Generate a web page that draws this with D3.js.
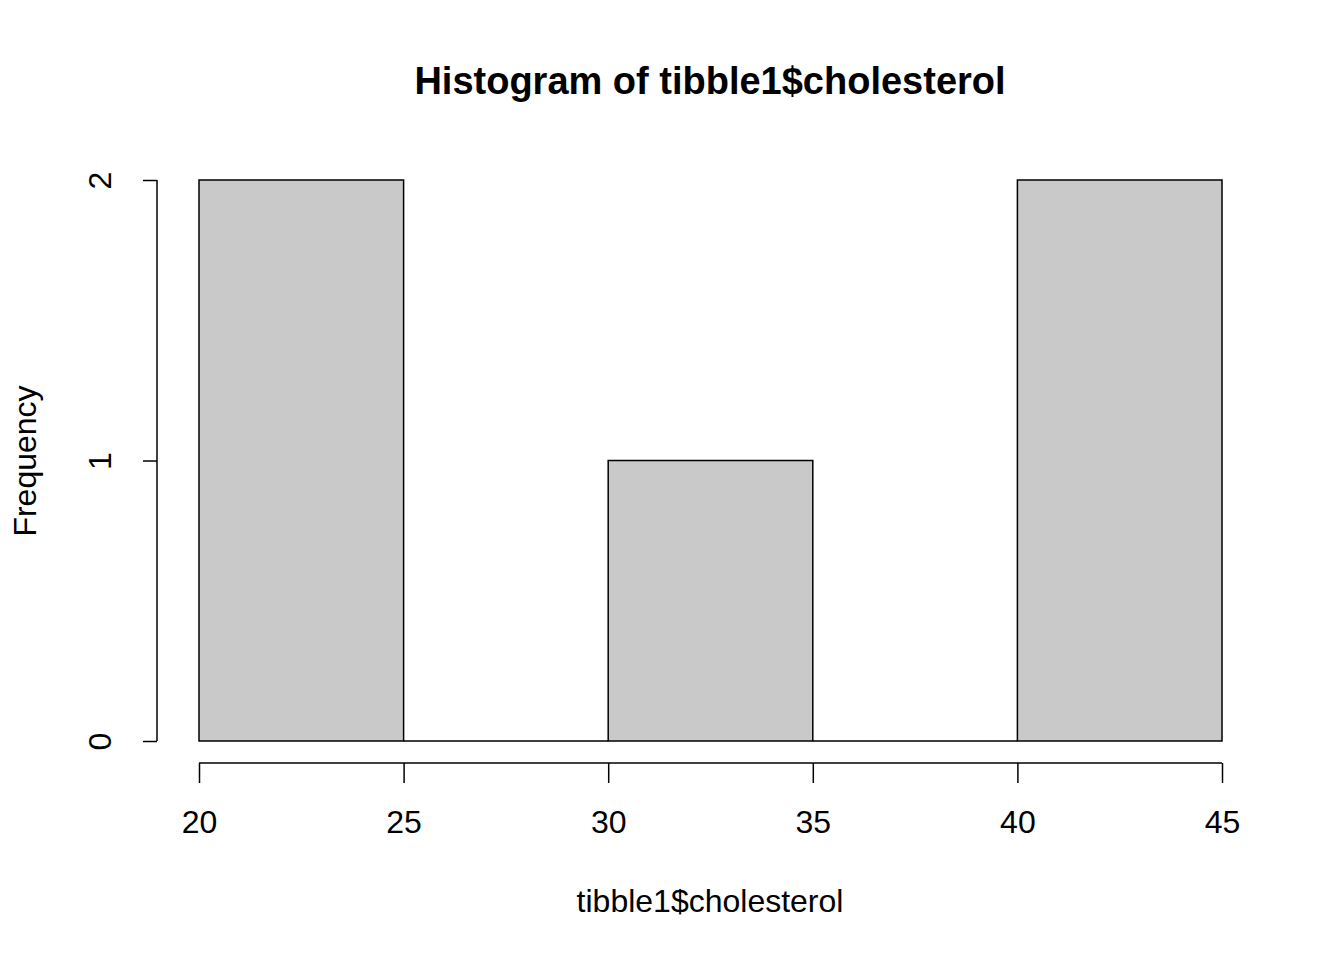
<!DOCTYPE html>
<html><head><meta charset="utf-8">
<script src="https://cdn.jsdelivr.net/npm/d3@7"></script>
<style>body{margin:0;background:#fff}text{font-family:"Liberation Sans",Arial,Helvetica,sans-serif}</style>
</head><body>
<svg id="c" width="1344" height="960"></svg>
<script>
const binStarts = [20, 25, 30, 35, 40];
const binEnds = [25, 30, 35, 40, 45];
const counts = [2, 0, 1, 0, 2];
const xTicks = [20, 25, 30, 35, 40, 45];
const yTicks = [0, 1, 2];
const title = "Histogram of tibble1$cholesterol";
const xLabel = "tibble1$cholesterol";
const yLabel = "Frequency";

const svg = d3.select("#c");
const x = d3.scaleLinear().domain([20, 45]).range([199, 1222]);
const y = d3.scaleLinear().domain([0, 2]).range([741, 180]);

svg.selectAll("path.bar").data(counts).join("path")
  .attr("d", (d, i) => {
    const x0 = x(binStarts[i]), x1 = x(binEnds[i]), y0 = y(0), y1 = y(d);
    return `M${x0},${y0}H${x1}V${y1}H${x0}Z`;
  })
  .attr("fill", "#c9c9c9").attr("stroke", "#000").attr("stroke-width", 1.5);

const xAxis = svg.append("g").attr("transform", "translate(0,763)")
  .call(d3.axisBottom(x).tickValues(xTicks).tickSize(20).tickPadding(27).tickFormat(d3.format("d")));
xAxis.select(".domain").attr("d", `M${x(20)},0H${x(45)}`);
const yAxis = svg.append("g").attr("transform", "translate(157,0)")
  .call(d3.axisLeft(y).tickValues(yTicks).tickSize(14).tickFormat(d3.format("d")));
yAxis.select(".domain").attr("d", `M0,${y(0)}V${y(2)}`);
[xAxis, yAxis].forEach(a => {
  a.selectAll("path,line").attr("stroke", "#000").attr("stroke-width", 1.5);
  a.selectAll("text").attr("font-size", 32).attr("fill", "#000")
   .style("font-family", '"Liberation Sans",Arial,sans-serif');
});
yAxis.selectAll(".tick text")
  .attr("x", null).attr("dy", null)
  .attr("text-anchor", "middle")
  .attr("transform", "translate(-57,0) rotate(-90)")
  .attr("dominant-baseline", "central");

svg.append("text").attr("x", 710).attr("y", 94).attr("text-anchor", "middle")
  .attr("font-size", 38).attr("font-weight", "bold").text(title);
svg.append("text").attr("x", 710).attr("y", 912).attr("text-anchor", "middle")
  .attr("font-size", 32).text(xLabel);
svg.append("text").attr("transform", "translate(36,461) rotate(-90)").attr("text-anchor", "middle")
  .attr("font-size", 32).text(yLabel);
</script>
</body></html>
